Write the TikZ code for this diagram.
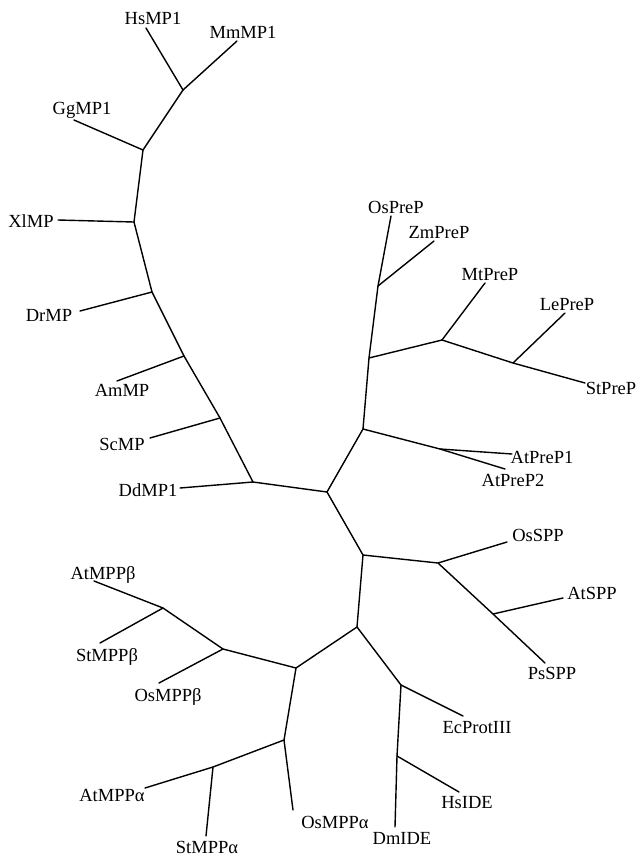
\documentclass[tikz,border=0pt]{standalone}
\usepackage{fontspec}
\setmainfont{Liberation Serif}
\begin{document}
\begin{tikzpicture}[x=1pt,y=-1pt,
  br/.style={line width=1.4pt,line cap=round,line join=round},
  lab/.style={inner sep=0pt,anchor=center,text height=12.5pt,text depth=0pt,font=\fontsize{18.5}{21}\selectfont}]
\useasboundingbox (0,0) rectangle (639,857);
% internal nodes
\coordinate (c) at (327,492);
\coordinate (dd) at (253,482);
\coordinate (sc) at (220,418);
\coordinate (am) at (184,356);
\coordinate (dr) at (152,292);
\coordinate (xl) at (134,222);
\coordinate (gg) at (143,150);
\coordinate (hm) at (183,90);
\coordinate (atp) at (363,429);
\coordinate (mtn) at (369,358);
\coordinate (zm) at (378,286);
\coordinate (mt) at (442,340);
\coordinate (le) at (513,363);
\coordinate (ap) at (440,449);
\coordinate (spp) at (363,555);
\coordinate (os) at (438,563);
\coordinate (at) at (493,614);
\coordinate (low) at (357,627);
\coordinate (ec) at (401,685);
\coordinate (hs) at (397,756);
\coordinate (mpp) at (296,668);
\coordinate (beta) at (223,649);
\coordinate (bas) at (163,608);
\coordinate (alpha) at (284,740);
\coordinate (aas) at (213,767);
% leaf ends
\coordinate (eHs) at (146,28);
\coordinate (eMm) at (237,41);
\coordinate (eGg) at (74,120);
\coordinate (eXl) at (58,220);
\coordinate (eDr) at (80,311);
\coordinate (eAm) at (117,381);
\coordinate (eSc) at (150,438);
\coordinate (eDd) at (180,488);
\coordinate (eOsP) at (391,216);
\coordinate (eZm) at (434,241);
\coordinate (eMt) at (485,283);
\coordinate (eLe) at (565,313);
\coordinate (eSt) at (585,383);
\coordinate (eAp1) at (512,454);
\coordinate (eAp2) at (505,469);
\coordinate (eOsS) at (507,542);
\coordinate (eAtS) at (563,598);
\coordinate (ePs) at (545,663);
\coordinate (eEc) at (463,716);
\coordinate (eHsI) at (459,792);
\coordinate (eDm) at (395,827);
\coordinate (eOsB) at (159,683);
\coordinate (eAtB) at (94,581);
\coordinate (eStB) at (100,643);
\coordinate (eOsA) at (293,810);
\coordinate (eAtA) at (145,788);
\coordinate (eStA) at (206,836);
% labels
\node[lab] (lHs) at (153,18) {HsMP1};
\node[lab] (lMm) at (243,32) {MmMP1};
\node[lab] (lGg) at (82,108) {GgMP1};
\node[lab] (lXl) at (31,221) {XlMP};
\node[lab] (lDr) at (49,315) {DrMP};
\node[lab] (lAm) at (122,390) {AmMP};
\node[lab] (lSc) at (122,444) {ScMP};
\node[lab] (lDd) at (148,490) {DdMP1};
\node[lab] (lOsP) at (396,207) {OsPreP};
\node[lab] (lZm) at (439,232) {ZmPreP};
\node[lab] (lMt) at (490,274) {MtPreP};
\node[lab] (lLe) at (567,304) {LePreP};
\node[lab] (lSt) at (611,388) {StPreP};
\node[lab] (lAp1) at (542,457) {AtPreP1};
\node[lab] (lAp2) at (513,480) {AtPreP2};
\node[lab] (lOsS) at (538,535) {OsSPP};
\node[lab] (lAtS) at (592,593) {AtSPP};
\node[lab] (lPs) at (552,673) {PsSPP};
\node[lab] (lEc) at (477,727) {EcProtIII};
\node[lab] (lHsI) at (467,802) {HsIDE};
\node[lab] (lDm) at (402,838) {DmIDE};
\node[lab] (lOsB) at (168,695) {OsMPPβ};
\node[lab] (lAtB) at (103,573) {AtMPPβ};
\node[lab] (lStB) at (107,655) {StMPPβ};
\node[lab] (lOsA) at (335,822) {OsMPPα};
\node[lab] (lAtA) at (112,795) {AtMPPα};
\node[lab] (lStA) at (207,847) {StMPPα};
% branches
\draw[br] (c) -- (dd) -- (sc) -- (am) -- (dr) -- (xl) -- (gg) -- (hm);
\draw[br] (dd) -- (eDd);
\draw[br] (sc) -- (eSc);
\draw[br] (am) -- (eAm);
\draw[br] (dr) -- (eDr);
\draw[br] (xl) -- (eXl);
\draw[br] (gg) -- (eGg);
\draw[br] (hm) -- (eHs);
\draw[br] (hm) -- (eMm);
\draw[br] (c) -- (atp) -- (mtn) -- (zm) -- (eOsP);
\draw[br] (zm) -- (eZm);
\draw[br] (mtn) -- (mt) -- (eMt);
\draw[br] (mt) -- (le) -- (eLe);
\draw[br] (le) -- (eSt);
\draw[br] (atp) -- (ap) -- (eAp1);
\draw[br] (ap) -- (eAp2);
\draw[br] (c) -- (spp) -- (os) -- (eOsS);
\draw[br] (os) -- (at) -- (eAtS);
\draw[br] (at) -- (ePs);
\draw[br] (spp) -- (low) -- (ec) -- (eEc);
\draw[br] (ec) -- (hs) -- (eHsI);
\draw[br] (hs) -- (eDm);
\draw[br] (low) -- (mpp) -- (beta) -- (eOsB);
\draw[br] (beta) -- (bas) -- (eAtB);
\draw[br] (bas) -- (eStB);
\draw[br] (mpp) -- (alpha) -- (eOsA);
\draw[br] (alpha) -- (aas) -- (eAtA);
\draw[br] (aas) -- (eStA);
\end{tikzpicture}
\end{document}
